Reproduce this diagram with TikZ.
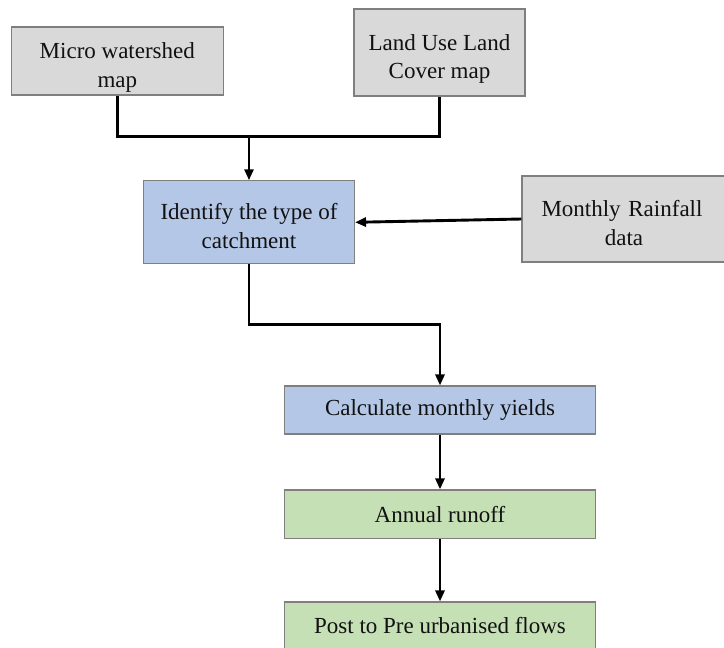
\documentclass[tikz,border=0pt]{standalone}
\usepackage{fontspec}
\setmainfont{Liberation Serif}
\newfontfamily\boxfont{Liberation Serif}
\usetikzlibrary{arrows.meta}
\definecolor{grayfill}{HTML}{D9D9D9}
\definecolor{bluefill}{HTML}{B4C7E7}
\definecolor{greenfill}{HTML}{C5E0B4}
\definecolor{boxline}{HTML}{7F7F7F}
\definecolor{txt}{HTML}{111111}
\newcommand\lowr[1]{\rule{0pt}{#1}}
\tikzset{
  box/.style={draw=boxline, line width=1.1pt, rectangle, align=center, text=txt,
    font=\boxfont\fontsize{23}{28.5}\selectfont, inner sep=0pt},
  graybox/.style={box, fill=grayfill},
  bluebox/.style={box, fill=bluefill},
  greenbox/.style={box, fill=greenfill},
  conn/.style={line width=2.9pt, black},
  arr/.style={conn, -{Triangle[length=11pt,width=9pt]}},
}
\begin{document}
\begin{tikzpicture}[x=1pt,y=-1pt]
\useasboundingbox (0,0) rectangle (724,648);
\fill[white] (0,0) rectangle (724,648);
\node[graybox, minimum width=211.5pt, minimum height=68pt] (micro) at (117.3,61) {\lowr{28.5pt}Micro watershed\\map};
\node[graybox, minimum width=171pt, minimum height=87pt] (land) at (439.5,52.5) {\lowr{28.5pt}Land Use Land\\Cover map};
\node[bluebox, minimum width=211pt, minimum height=83pt] (ident) at (249,222.3) {\lowr{23.5pt}Identify the type of\\catchment};
\node[graybox, minimum width=204pt, minimum height=86pt, text width=204pt, align=center] (rain) at (624,219) {\lowr{24.5pt}\hspace*{-4pt}Monthly Rainfall\\data};
\node[bluebox, minimum width=311.5pt, minimum height=48pt] (calc) at (440,410) {Calculate monthly yields};
\node[greenbox, minimum width=311pt, minimum height=48.7pt] (annual) at (440,514.3) {Annual runoff};
\node[greenbox, minimum width=311pt, minimum height=48pt] (post) at (440,626) {Post to Pre urbanised flows};
\coordinate (merge) at (249,136.7);
\draw[conn] (micro.south) |- (merge) -| (land.south);
\draw[arr] (merge) -- (ident.north);
\draw[arr] (rain.west) -- (ident.east);
\draw[arr] (ident.south) -- ++(0,60) -| (calc.north);
\draw[arr] (calc.south) -- (annual.north);
\draw[arr] (annual.south) -- (post.north);
\end{tikzpicture}
\end{document}
